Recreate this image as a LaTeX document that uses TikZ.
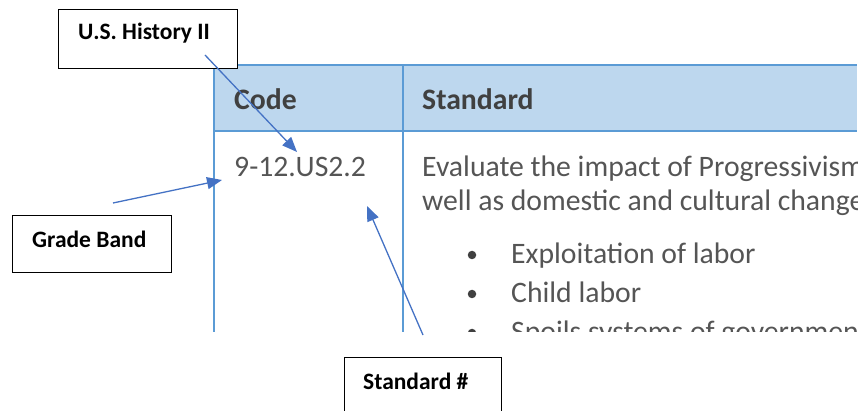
\documentclass[tikz,border=0pt]{standalone}
\usepackage{fontspec}
\setmainfont{Carlito}
\usetikzlibrary{arrows.meta}
\definecolor{arrowblue}{HTML}{4472C4}
\definecolor{gridblue}{HTML}{5B9BD5}
\definecolor{headfill}{HTML}{BDD7EE}
\definecolor{bodytext}{HTML}{555555}
\definecolor{headtext}{HTML}{404040}
\tikzset{
  labelbox/.style={draw=black, line width=1.4pt, fill=white, anchor=north west, inner sep=0pt},
  labeltext/.style={anchor=base west, inner sep=0pt, font=\fontsize{23.5}{28}\selectfont\bfseries, text=black},
  celltext/.style={anchor=base west, inner sep=0pt, font=\fontsize{29.7}{35}\selectfont, text=bodytext},
  headcell/.style={anchor=base west, inner sep=0pt, font=\fontsize{29.7}{35}\selectfont\bfseries, text=headtext},
  gridline/.style={draw=gridblue, line width=1.3pt},
  pointer/.style={draw=arrowblue, line width=1.3pt, -{Triangle[length=15pt,width=12pt]}},
  bulletdot/.style={circle, fill=headtext, inner sep=0pt, minimum size=8.5pt}
}
\begin{document}
\begin{tikzpicture}[x=1pt,y=-1pt]
\useasboundingbox (0,0) rectangle (862,411);
% table
\begin{scope}
\clip (200,55) rectangle (857,332);
\fill[headfill] (214,65) rectangle (857,131);
\draw[gridline] (214,65) -- (857,65);
\draw[gridline] (214,131) -- (857,131);
\draw[gridline] (214,65) -- (214,340);
\draw[gridline] (403,65) -- (403,340);
\node[headcell] (code) at (234,110) {Code};
\node[headcell] (std) at (422,110) {Standard};
\node[celltext] (codeval) at (234,177) {9-12.US2.2};
\node[celltext] (l1) at (422,177) {Evaluate the impact of Progressivism};
\node[celltext] (l2) at (422,211) {well as domestic and cultural change};
\node[bulletdot] (b1) at (472,255) {};
\node[bulletdot] (b2) at (472,294) {};
\node[bulletdot] (b3) at (472,333) {};
\node[celltext] (i1) at (511,264) {Exploitation of labor};
\node[celltext] (i2) at (511,303) {Child labor};
\node[celltext] (i3) at (511,342) {Spoils systems of governmen};
\end{scope}
% label boxes
\node[labelbox, minimum width=179pt, minimum height=59pt] (usbox) at (58,9) {};
\node[labeltext] (ustext) at (78,40) {U.S. History II};
\node[labelbox, minimum width=159pt, minimum height=57pt] (gbbox) at (12,215) {};
\node[labeltext] (gbtext) at (32,248) {Grade Band};
\node[labelbox, minimum width=157pt, minimum height=70pt] (sbox) at (344,357) {};
\node[labeltext] (stext) at (363,389) {Standard \#};
% pointer coordinates
\coordinate (usfrom) at (205,55);
\coordinate (usto) at (297,152);
\coordinate (gbfrom) at (113,203);
\coordinate (gbto) at (222,180);
\coordinate (sfrom) at (423,335);
\coordinate (sto) at (367,206);
\draw[pointer] (usfrom) -- (usto);
\draw[pointer] (gbfrom) -- (gbto);
\draw[pointer] (sfrom) -- (sto);
\end{tikzpicture}
\end{document}
